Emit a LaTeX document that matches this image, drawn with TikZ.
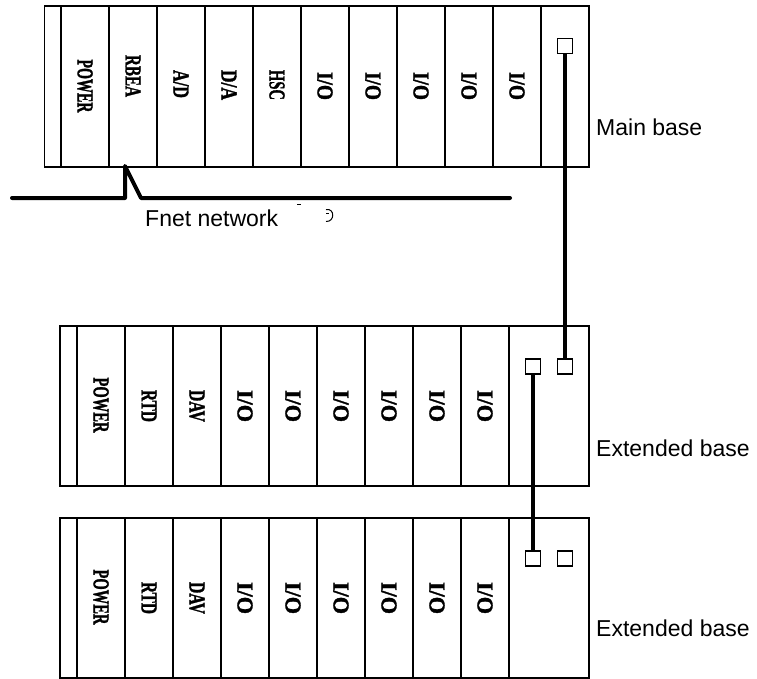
\documentclass[tikz,border=0pt]{standalone}
\usepackage{fontspec}
\setmainfont{Liberation Serif}
\newfontfamily\basefont{Liberation Sans}
\newfontfamily\modfont[FakeBold=1.6]{Liberation Serif}
\usepackage{graphicx}
\usetikzlibrary{positioning}
\newcommand{\modtxt}[2]{\resizebox{#1pt}{15pt}{#2}}
\tikzset{
  basebox/.style={draw=black,line width=1.8pt},
  modlab/.style={rotate=-90,inner sep=0pt,font=\modfont\bfseries},
  port/.style={draw=black,fill=white,line width=1.5pt,minimum size=15pt,inner sep=0pt},
  link/.style={line width=4.2pt},
  fnet/.style={line width=4pt,line cap=round,line join=round},
  basetxt/.style={anchor=west,inner sep=0pt,font={\basefont\fontsize{23}{27}\selectfont}},
}

\begin{document}
\begin{tikzpicture}[x=1pt,y=-1pt]
  \useasboundingbox (0,0) rectangle (757,679);
  % main base
  \draw[basebox] (44.5,6) rectangle (589,167);
  \foreach \xx in {61,109,...,541} \draw[basebox] (\xx,6) -- (\xx,167);
  \node[modlab] (mpow) at (85,86) {\modtxt{53}{POWER}};
  \node[modlab] (mrbea) at (133,76) {\modtxt{42}{RBEA}};
  \node[modlab] (mad) at (181,84) {\modtxt{28}{A/D}};
  \node[modlab] (mda) at (229,85) {\modtxt{30}{D/A}};
  \node[modlab] (mhsc) at (277,85) {\modtxt{30}{HSC}};
  \foreach \xx [count=\i] in {325,373,...,517}
    \node[modlab] (mio\i) at (\xx,86) {\modtxt{28}{I/O}};
  \node[port] (mp) at (565,46) {};
  \node[basetxt] (tmain) at (596,127) {Main base};

  % Fnet bus
  \coordinate (fnL) at (12,198);
  \coordinate (fnR) at (510,198);
  \coordinate (rbeatap) at (125,166);
  \draw[fnet] (fnL) -- (rbeatap |- fnL) -- (rbeatap) -- (141,198) -- (fnR);
  \node[basetxt] (tfnet) at (145,218) {Fnet network};
  \draw[line width=0.5pt] (297,204.5) -- (301,204.5);
  \draw[line width=1pt] (326,209.5) .. controls (335,208) and (335,222) .. (326,221.5);
  \draw[line width=0.8pt] (326,213) -- (329,213);

  % extended bases
  \foreach \yt/\nm in {326/ea,518/eb}{
    \draw[basebox] (60,\yt) rectangle (589,\yt+160);
    \foreach \xx in {77,125,...,509} \draw[basebox] (\xx,\yt) -- (\xx,\yt+160);
    \node[modlab] (\nm-pow) at (101,\yt+79) {\modtxt{55}{POWER}};
    \node[modlab] (\nm-rtd) at (149,\yt+80) {\modtxt{32}{RTD}};
    \node[modlab] (\nm-dav) at (197,\yt+80) {\modtxt{32}{DAV}};
    \foreach \xx [count=\i] in {245,293,...,485}
      \node[modlab] (\nm-io\i) at (\xx,\yt+80) {\modtxt{32}{I/O}};
    \node[port] (\nm-l) at (533,\yt+40.5) {};
    \node[port] (\nm-r) at (565,\yt+40.5) {};
  }
  \node[basetxt] (tea) at (596,448) {Extended base};
  \node[basetxt] (teb) at (596,628) {Extended base};

  % base links
  \draw[link] (mp.south) -- (ea-r.north);
  \draw[link] (ea-l.south) -- (eb-l.north);
\end{tikzpicture}
\end{document}
